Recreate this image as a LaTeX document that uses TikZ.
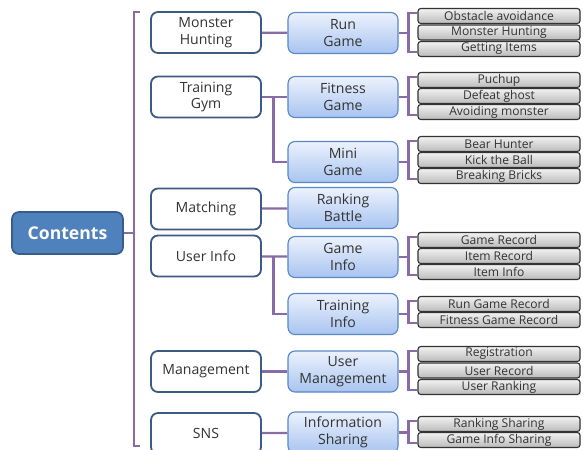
\documentclass[tikz,border=0pt]{standalone}
\usepackage{fontspec}
\setmainfont{Open Sans}
\usepackage{tikz}
\usetikzlibrary{positioning}
\usetikzlibrary{calc}
\definecolor{linkpurple}{RGB}{135,108,168}
\definecolor{rootfill}{RGB}{79,129,189}
\definecolor{rootline}{RGB}{56,93,138}
\definecolor{onelines}{RGB}{60,90,130}
\definecolor{twoline}{RGB}{90,135,200}
\definecolor{twotop}{RGB}{236,242,253}
\definecolor{twobot}{RGB}{168,196,240}
\tikzset{
  rootbox/.style={rectangle,draw=rootline,fill=rootfill,line width=1.2pt,rounded corners=5pt,
    minimum width=2.775cm,minimum height=1.05cm,text=white,font=\fontsize{12.5}{14}\selectfont\bfseries},
  onebox/.style={rectangle,draw=onelines,fill=white,line width=1.3pt,rounded corners=5pt,
    minimum width=2.75cm,minimum height=1.025cm,align=center,text=black!80,inner sep=1pt,
    font=\fontsize{10}{12}\selectfont},
  twobox/.style={rectangle,draw=twoline,top color=twotop,bottom color=twobot,line width=0.8pt,
    rounded corners=5pt,minimum width=2.75cm,minimum height=1.025cm,align=center,text=black!80,
    inner sep=1pt,font=\fontsize{10}{12}\selectfont},
  leaf/.style={rectangle,draw=black!80,top color=black!5,bottom color=black!27,line width=0.8pt,
    rounded corners=2pt,minimum width=4.05cm,minimum height=0.375cm,inner sep=0pt,text=black!80,
    font=\fontsize{8.6}{9}\selectfont},
  link/.style={draw=linkpurple,line width=1.6pt}
}
\begin{document}
\begin{tikzpicture}[x=0.025cm,y=-0.025cm]
\useasboundingbox (0,0) rectangle (585,449);

%root
\node[rootbox] (cont) at (67.5,233) {Contents};

%level one
\node[onebox] (mh) at (206,32.5) {Monster\\Hunting};
\node[onebox] (tg) at (206,97) {Training\\Gym};
\node[onebox] (mt) at (206,209) {Matching};
\node[onebox] (ui) at (206,256) {User Info};
\node[onebox] (mg) at (206,371.5) {Management};
\node[onebox] (sns) at (206,433.5) {SNS};

%level two
\node[twobox] (run) at (343,33) {Run\\Game};
\node[twobox] (fit) at (343,97) {Fitness\\Game};
\node[twobox] (mini) at (343,162) {Mini\\Game};
\node[twobox] (rank) at (343,208) {Ranking\\Battle};
\node[twobox] (ginfo) at (343,257) {Game\\Info};
\node[twobox] (tinfo) at (343,314) {Training\\Info};
\node[twobox] (umg) at (343,371.5) {User\\Management};
\node[twobox] (ish) at (343,432.5) {Information\\Sharing};

%leaves
\foreach \name/\y/\txt in {run1/16/Obstacle avoidance,run2/32.5/Monster Hunting,run3/49/Getting Items,
  fit1/80/Puchup,fit2/96/Defeat ghost,fit3/112/Avoiding  monster,
  mini1/144/Bear Hunter,mini2/160/Kick the Ball,mini3/176/Breaking Bricks,
  ginfo1/240/Game Record,ginfo2/256/Item Record,ginfo3/272/Item Info,
  tinfo1/304/Run Game Record,tinfo2/320/Fitness Game Record,
  umg1/354/Registration,umg2/370.5/User Record,umg3/387/User Ranking,
  ish1/424/Ranking Sharing,ish2/440/Game Info Sharing} {
\node[leaf] (\name) at (499,\y) {\txt};
}

%root bracket
\coordinate (rb) at (134,233);
\draw[link] (cont) -- (rb);
\draw[link] (140,12) -- (134,12) -- (134,446) -- (140,446);

%level one to two
\draw[link] (mh) -- (run);
\draw[link] (tg) -- (fit);
\draw[link] (mt) -- (rank);
\draw[link] (ui) -- (ginfo);
\draw[link] (mg) -- (umg);
\draw[link] (sns) -- (ish);
\coordinate (tgj) at ($(tg.east)!0.45!(fit.west)$);
\coordinate (uij) at ($(ui.east)!0.45!(ginfo.west)$);
\draw[link] (tgj) |- (mini.west);
\draw[link] (uij) |- (tinfo.west);

%leaf brackets
\foreach \p/\a/\b in {run/run1/run3,fit/fit1/fit3,mini/mini1/mini3,ginfo/ginfo1/ginfo3,
  tinfo/tinfo1/tinfo2,umg/umg1/umg3,ish/ish1/ish2} {
\draw[link] (\p.east) -- ++(10,0);
\draw[link] ([yshift=2pt]\a.west) -- ++(-9,0) |- ([yshift=-2pt]\b.west);
}

\end{tikzpicture}
\end{document}
